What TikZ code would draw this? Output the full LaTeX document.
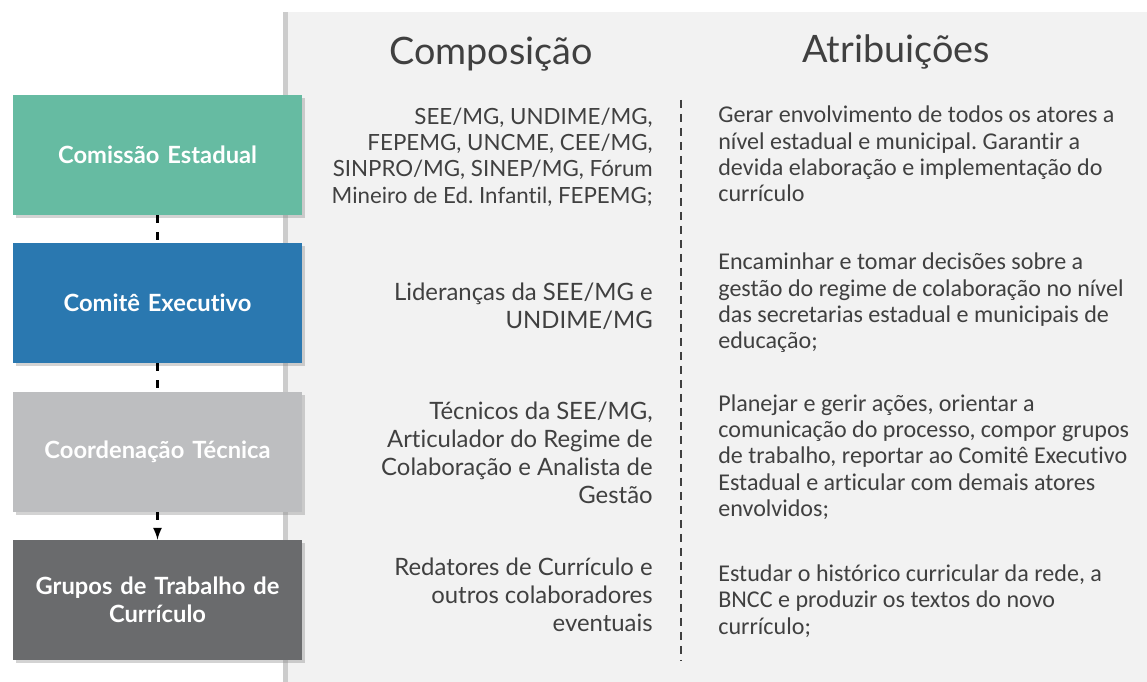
\documentclass[tikz,border=0pt]{standalone}
\usepackage{fontspec}
\setmainfont[Ligatures=NoCommon]{Carlito}
\newfontfamily\latofont[Ligatures=NoCommon]{Lato}
\usetikzlibrary{positioning,fit,calc,shadows}
\tikzset{>=latex}
\frenchspacing

\definecolor{estadual}{HTML}{66BBA2}
\definecolor{executivo}{HTML}{2A78B0}
\definecolor{tecnica}{HTML}{BDBEC0}
\definecolor{grupos}{HTML}{6A6B6D}
\definecolor{panel}{HTML}{F2F2F2}
\definecolor{texto}{HTML}{404040}

\tikzset{
	orgbox/.style={minimum width=5.78cm, minimum height=2.4cm, text width=5.4cm, align=center,
		text=white, font=\latofont\bfseries\fontsize{13.5}{16}\selectfont,
		drop shadow={shadow xshift=0.06cm, shadow yshift=-0.06cm, opacity=0.35}},
	composicao/.style={anchor=east, align=right, text=texto, inner sep=0pt, font=\latofont\fontsize{13.6}{15.9}\selectfont},
	atribuicao/.style={anchor=west, align=left, text=texto, inner sep=0pt, font=\fontsize{13.7}{15}\selectfont},
	titulo/.style={text=texto, font=\latofont\fontsize{21.5}{26}\selectfont},
	ligacao/.style={line width=0.045cm, dash pattern=on 0.16cm off 0.18cm, black}
}

\begin{document}
\begin{tikzpicture}[x=0.02cm, y=-0.02cm]

	\useasboundingbox (0,0) rectangle (1147,682);

	\node (panel) [fill=panel, minimum width=17.6cm, minimum height=14cm, anchor=north west,
		drop shadow={shadow xshift=-0.1cm, shadow yshift=0cm, opacity=0.4}] at (288,12) {};

	\node (composicao-titulo) [titulo] at (491,54) {Composição};
	\node (atribuicoes-titulo) [titulo] at (896,52) {Atribuições};

	\node (estadual) [orgbox, fill=estadual] at (157.5,155) {Comissão Estadual};
	\node (executivo) [orgbox, fill=executivo] at (157.5,303) {Comitê Executivo};
	\node (tecnica) [orgbox, fill=tecnica] at (157.5,452) {Coordenação Técnica};
	\node (grupos) [orgbox, fill=grupos] at (157.5,600) {Grupos de Trabalho de\\Currículo};

	\draw[ligacao] (estadual) -- (executivo);
	\draw[ligacao] (executivo) -- (tecnica);
	\draw[ligacao, ->] (tecnica) -- (grupos);

	\coordinate (divisor-top) at (681,100);
	\coordinate (divisor-bottom) at (681,660);
	\draw[texto, line width=0.04cm, dash pattern=on 0.16cm off 0.12cm] (divisor-top) -- (divisor-bottom);

	% composicao
	\node (comp-estadual) [composicao, font=\latofont\fontsize{12.7}{15}\selectfont] at (653,157) {SEE/MG, UNDIME/MG,\\FEPEMG, UNCME, CEE/MG,\\SINPRO/MG, SINEP/MG, Fórum\\Mineiro de Ed. Infantil, FEPEMG;};
	\node (comp-executivo) [composicao] at (653,306) {Lideranças da SEE/MG e\\UNDIME/MG};
	\node (comp-tecnica) [composicao] at (653,453) {Técnicos da SEE/MG,\\Articulador do Regime de\\Colaboração e Analista de\\Gestão};
	\node (comp-grupos) [composicao] at (653,595) {Redatores de Currículo e\\outros colaboradores\\eventuais};

	% atribuicoes
	\node (atr-estadual) [atribuicao] at (718,154) {Gerar envolvimento de todos os atores a\\nível estadual e municipal. Garantir a\\devida elaboração e implementação do\\currículo};
	\node (atr-executivo) [atribuicao] at (718,303) {Encaminhar e tomar decisões sobre a\\gestão do regime de colaboração no nível\\das secretarias estadual e municipais de\\educação;};
	\node (atr-tecnica) [atribuicao] at (718,457) {Planejar e gerir ações, orientar a\\comunicação do processo, compor grupos\\de trabalho, reportar ao Comitê Executivo\\Estadual e articular com demais atores\\envolvidos;};
	\node (atr-grupos) [atribuicao] at (718,601) {Estudar o histórico curricular da rede, a\\BNCC e produzir os textos do novo\\currículo;};

\end{tikzpicture}
\end{document}
